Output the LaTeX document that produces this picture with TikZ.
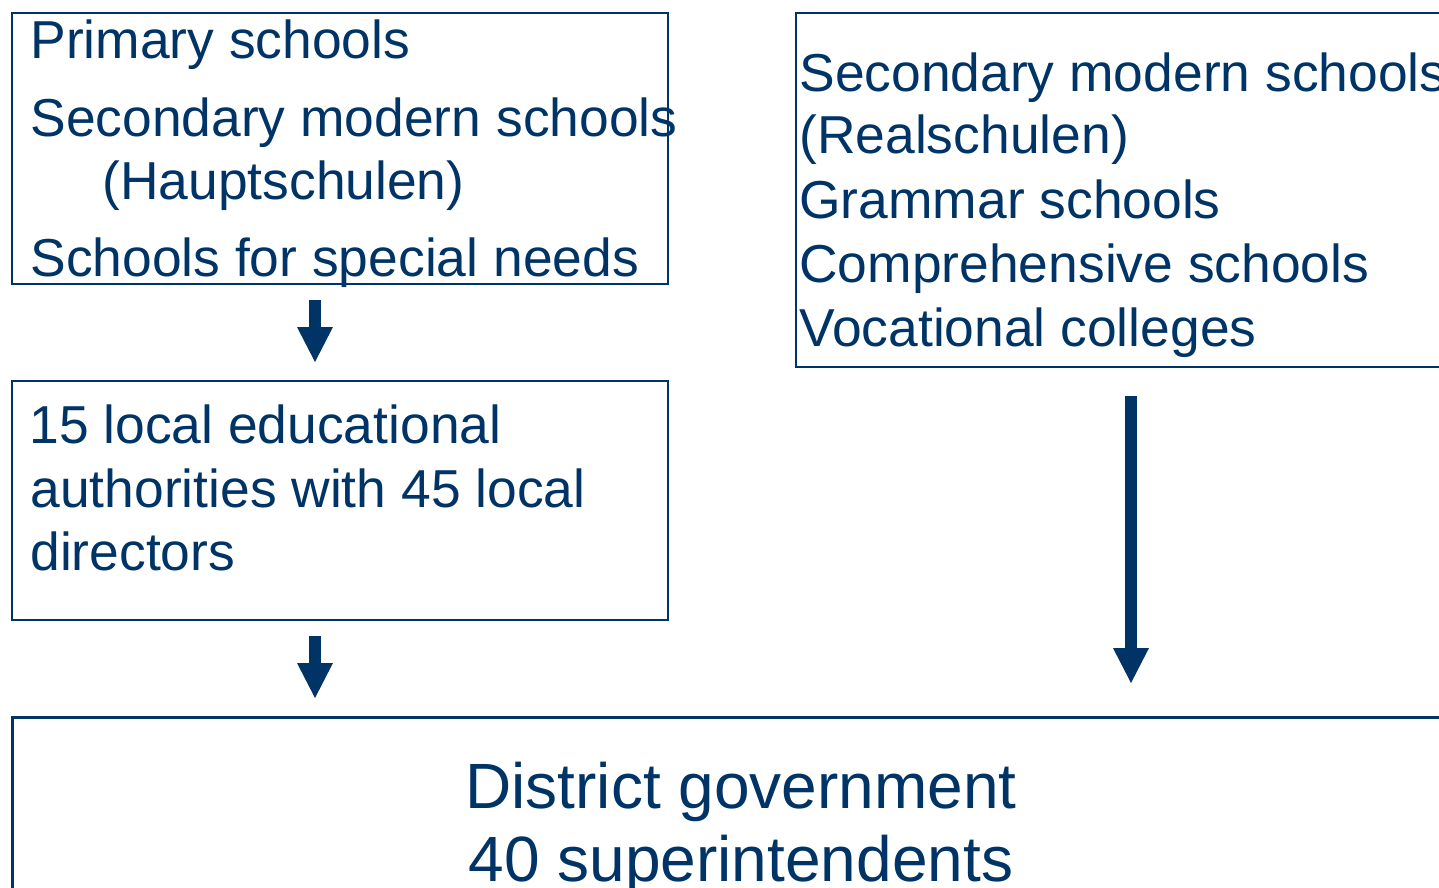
\documentclass[tikz,border=0pt]{standalone}
\usepackage{fontspec}
\setmainfont{Liberation Sans}
\usetikzlibrary{arrows.meta}
\definecolor{navy}{RGB}{0,51,102}

\begin{document}
\begin{tikzpicture}[x=0.5pt,y=-0.5pt,
  box/.style={draw=navy,line width=1pt,inner sep=0pt,anchor=north west},
  txt/.style={text=navy,anchor=base west,inner sep=0pt,
    font=\fontsize{26.7}{31}\selectfont},
  big/.style={text=navy,anchor=base,inner sep=0pt,
    font=\fontsize{32}{37}\selectfont},
  down/.style={navy,line width=6pt,line cap=butt,
    -{Triangle[width=18pt,length=17.5pt,line width=0pt]}}]

  \useasboundingbox (0,0) rectangle (1439,888);
  \clip (0,0) rectangle (1439,888);

  % the four frames
  \node[box,minimum width=328pt,minimum height=135.5pt] (prim) at (11,12) {};
  \node[box,minimum width=328pt,minimum height=119.5pt] (lea) at (11,380) {};
  \node[box,minimum width=400pt,minimum height=177pt] (sec) at (795,12) {};
  \node[box,line width=1.3pt,minimum width=730.5pt,minimum height=120pt]
    (dist) at (11,716) {};

  % school types under the local authorities
  \node[txt] (prim1) at (30,59) {Primary schools};
  \node[txt] (prim2) at (30,136) {Secondary modern schools};
  \node[txt] (prim3) at (102,199) {(Hauptschulen)};
  \node[txt] (prim4) at (30,276) {Schools for special needs};

  \node[txt] (lea1) at (29,443) {15 local educational};
  \node[txt] (lea2) at (30,507) {authorities with 45 local};
  \node[txt] (lea3) at (30,570) {directors};

  % school types under the district
  \node[txt] (sec1) at (799,91) {Secondary modern schools};
  \node[txt] (sec2) at (799,154) {(Realschulen)};
  \node[txt] (sec3) at (799,218) {Grammar schools};
  \node[txt] (sec4) at (799,282) {Comprehensive schools};
  \node[txt] (sec5) at (799,346) {Vocational colleges};

  \node[big] (dist1) at (741,808) {District government};
  \node[big] (dist2) at (741,881) {40 superintendents};

  % block arrows
  \coordinate (a1) at (315,300); \coordinate (b1) at (315,362);
  \coordinate (a2) at (315,636); \coordinate (b2) at (315,698);
  \coordinate (a3) at (1131,396); \coordinate (b3) at (1131,683);
  \draw[down] (a1) -- (b1);
  \draw[down] (a2) -- (b2);
  \draw[down] (a3) -- (b3);

\end{tikzpicture}
\end{document}
